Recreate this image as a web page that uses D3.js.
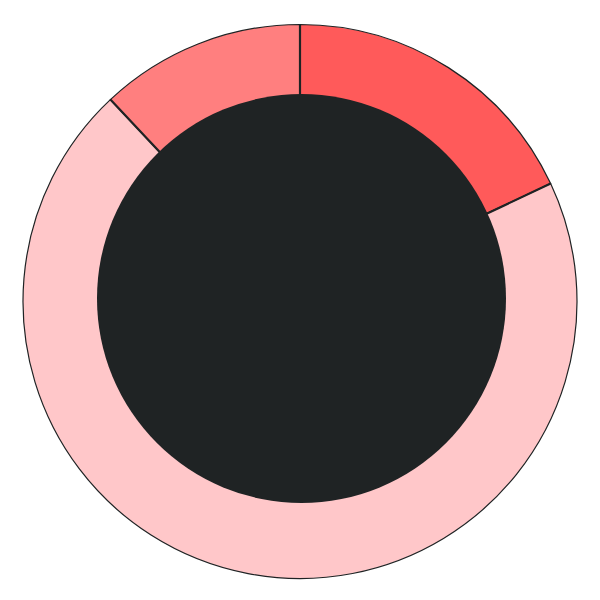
<!DOCTYPE html>
<html>
<head>
<meta charset="utf-8">
<script src="https://cdn.jsdelivr.net/npm/d3@7"></script>
<style>
  html, body { margin: 0; padding: 0; background: #fff; }
</style>
</head>
<body>
<div id="chart"></div>
<script>
"use strict";
(function() {

const WIDTH = 600
const HEIGHT = 600

const categories = ["A", "B", "C"]
const values = [18, 70, 12]
const colors = ["#ff5a5a", "#ffc7c9", "#ff7f7f"]

const OUTER = 277
const HOLE = 204.5
const DARK = "#1f2324"

let svg = d3.select("#chart").append("svg")
    .attr("width", WIDTH)
    .attr("height", HEIGHT)

let g = svg.append("g")
    .attr("transform", "translate(300, 301.5)")

let pie = d3.pie().sort(null).value(d => d)
let arc = d3.arc().innerRadius(0).outerRadius(OUTER)

let color = d3.scaleOrdinal().domain(categories).range(colors)

g.selectAll("path.slice")
    .data(pie(values))
    .join("path")
    .attr("class", "slice")
    .attr("d", arc)
    .attr("fill", (d, i) => color(categories[i]))
    .attr("stroke", DARK)
    .attr("stroke-width", 1.2)

// dividers a little heavier than the rim
g.selectAll("line.divider")
    .data(pie(values))
    .join("line")
    .attr("class", "divider")
    .attr("x1", 0)
    .attr("y1", 0)
    .attr("x2", d => OUTER * Math.sin(d.startAngle))
    .attr("y2", d => -OUTER * Math.cos(d.startAngle))
    .attr("stroke", DARK)
    .attr("stroke-width", 2.2)

// centre hole drawn on top, sits a touch off centre like the original
svg.append("circle")
    .attr("cx", 301.5)
    .attr("cy", 298.5)
    .attr("r", HOLE)
    .attr("fill", DARK)

})();
</script>
</body>
</html>
